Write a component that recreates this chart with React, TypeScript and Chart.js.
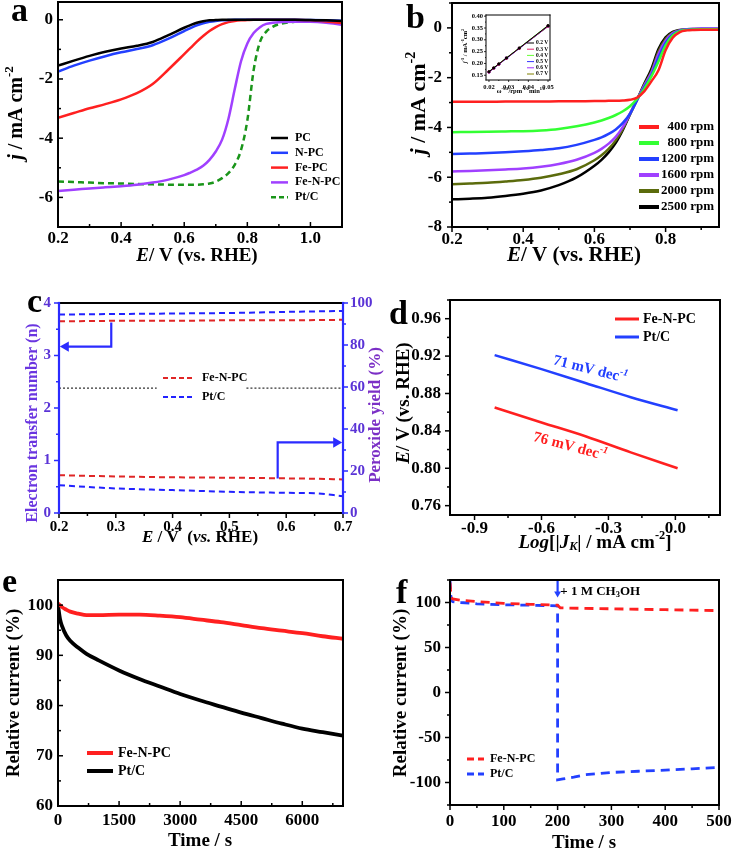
import { useEffect, useRef } from 'react';
import { Chart, registerables } from 'chart.js';

Chart.register(...registerables);

const SERIF = '"Liberation Serif", "Times New Roman", Times, serif';

// ===================== DATA =====================
// (a) LSV curves
const aE = [0.20, 0.25, 0.30, 0.35, 0.40, 0.45, 0.50, 0.55, 0.60, 0.62, 0.64, 0.66, 0.68, 0.70, 0.72, 0.74, 0.76, 0.78, 0.80, 0.82, 0.84, 0.86, 0.88, 0.90, 0.95, 1.00, 1.05, 1.10];
const aPC = [-1.55, -1.38, -1.22, -1.08, -0.97, -0.88, -0.75, -0.52, -0.27, -0.18, -0.10, -0.05, -0.02, -0.01, 0, 0, 0, 0, 0, 0, 0, 0, 0, 0, 0, -0.01, -0.02, -0.04];
const aNPC = [-1.75, -1.55, -1.38, -1.23, -1.10, -0.99, -0.86, -0.64, -0.38, -0.28, -0.19, -0.12, -0.07, -0.04, -0.02, -0.01, 0, 0, 0, 0, 0, 0, 0, 0, 0, -0.01, -0.02, -0.03];
const aFePC = [-3.31, -3.15, -2.99, -2.85, -2.69, -2.48, -2.17, -1.68, -1.16, -0.95, -0.74, -0.55, -0.38, -0.25, -0.15, -0.08, -0.04, -0.02, -0.01, 0, 0, 0, 0, 0, 0, -0.02, -0.06, -0.11];
const aFeNPC = [-5.78, -5.74, -5.70, -5.66, -5.62, -5.57, -5.50, -5.40, -5.25, -5.16, -5.06, -4.93, -4.73, -4.45, -4.05, -3.35, -2.35, -1.40, -0.80, -0.45, -0.25, -0.14, -0.10, -0.08, -0.07, -0.07, -0.10, -0.17];
const aPtC = [-5.46, -5.48, -5.50, -5.52, -5.53, -5.55, -5.56, -5.57, -5.57, -5.57, -5.57, -5.56, -5.53, -5.47, -5.35, -5.18, -4.90, -4.40, -3.40, -1.70, -0.75, -0.40, -0.24, -0.15, -0.07, -0.05, -0.05, -0.06];
const aLabels = ['PC', 'N-PC', 'Fe-PC', 'Fe-N-PC', 'Pt/C'];

// (b) rotation-rate LSV curves
const bE = [0.20, 0.25, 0.30, 0.35, 0.40, 0.45, 0.50, 0.55, 0.60, 0.62, 0.64, 0.66, 0.68, 0.70, 0.72, 0.74, 0.76, 0.78, 0.80, 0.82, 0.84, 0.86, 0.88, 0.90, 0.95];
const b400 = [-2.97, -2.97, -2.97, -2.96, -2.96, -2.96, -2.95, -2.95, -2.94, -2.94, -2.93, -2.93, -2.92, -2.89, -2.80, -2.55, -2.15, -1.70, -0.90, -0.40, -0.17, -0.10, -0.08, -0.07, -0.07];
const b800 = [-4.19, -4.18, -4.17, -4.16, -4.15, -4.12, -4.06, -3.95, -3.80, -3.72, -3.62, -3.50, -3.35, -3.15, -2.85, -2.45, -1.95, -1.35, -0.70, -0.30, -0.13, -0.08, -0.06, -0.05, -0.05];
const b1200 = [-5.07, -5.05, -5.03, -5.00, -4.96, -4.91, -4.84, -4.70, -4.50, -4.40, -4.26, -4.08, -3.82, -3.45, -2.90, -2.38, -1.90, -1.20, -0.60, -0.26, -0.12, -0.07, -0.05, -0.04, -0.04];
const b1600 = [-5.77, -5.75, -5.72, -5.69, -5.65, -5.58, -5.47, -5.30, -5.02, -4.86, -4.65, -4.38, -3.98, -3.45, -2.88, -2.32, -1.80, -1.05, -0.52, -0.22, -0.10, -0.05, -0.03, -0.02, -0.02];
const b2000 = [-6.28, -6.25, -6.22, -6.17, -6.11, -6.02, -5.88, -5.68, -5.32, -5.12, -4.86, -4.52, -4.06, -3.45, -2.88, -2.28, -1.75, -0.95, -0.45, -0.19, -0.09, -0.05, -0.04, -0.04, -0.04];
const b2500 = [-6.89, -6.86, -6.82, -6.75, -6.66, -6.53, -6.32, -6.01, -5.54, -5.30, -5.00, -4.62, -4.10, -3.48, -2.88, -2.25, -1.65, -0.85, -0.38, -0.16, -0.08, -0.06, -0.05, -0.05, -0.05];
const bLabels = ['400 rpm', '800 rpm', '1200 rpm', '1600 rpm', '2000 rpm', '2500 rpm'];

// (b) inset: K-L plots
const kX = [0.02, 0.0224, 0.025, 0.0289, 0.0354, 0.05];
const k02 = [0.165, 0.181, 0.198, 0.223, 0.265, 0.360];
const k03 = [0.164, 0.180, 0.197, 0.222, 0.264, 0.358];
const k04 = [0.166, 0.182, 0.199, 0.224, 0.266, 0.361];
const k05 = [0.163, 0.179, 0.196, 0.221, 0.263, 0.357];
const k06 = [0.165, 0.181, 0.198, 0.224, 0.265, 0.359];
const k07 = [0.164, 0.181, 0.197, 0.223, 0.264, 0.356];
const kLabels = ['0.2 V', '0.3 V', '0.4 V', '0.5 V', '0.6 V', '0.7 V'];

// (c) electron transfer number and peroxide yield
const cE = [0.2, 0.3, 0.4, 0.5, 0.6, 0.7];
const cFeN_n = [3.65, 3.66, 3.66, 3.67, 3.67, 3.68];
const cPt_n = [3.78, 3.79, 3.80, 3.81, 3.83, 3.85];
const cE2 = [0.2, 0.3, 0.4, 0.5, 0.6, 0.65, 0.7];
const cFeN_h = [18.0, 17.4, 17.0, 16.8, 16.5, 16.3, 16.0];
const cPt_h = [13.2, 11.7, 10.9, 10.1, 9.6, 9.4, 8.0];
const cRefX = [0.2, 0.372, 0.45, 0.53, 0.7];
const cRefY = [59.5, 59.5, null, 59.5, 59.5];
const cArrow1X = [0.292, 0.292, 0.212];
const cArrow1Y = [3.63, 3.17, 3.17];
const cArrow2X = [0.585, 0.585, 0.688];
const cArrow2Y = [16.4, 33.6, 33.6];
const cLabels = ['Fe-N-PC', 'Pt/C'];

// (d) Tafel
const dLogJ = [-0.81, -0.6, -0.4, -0.2, 0.01];
const dFeN = [0.865, 0.849, 0.834, 0.817, 0.800];
const dPt = [0.921, 0.906, 0.891, 0.876, 0.862];
const dLabels = ['Fe-N-PC', 'Pt/C'];

// (e) stability
const eT = [0, 50, 100, 200, 300, 500, 700, 1000, 1500, 2000, 2500, 3000, 3500, 4000, 4500, 5000, 5500, 6000, 6500, 7000];
const eFeN = [100.3, 100.0, 99.6, 99.1, 98.7, 98.3, 98.0, 98.0, 98.1, 98.1, 97.9, 97.6, 97.1, 96.6, 96.0, 95.4, 94.9, 94.4, 93.8, 93.3];
const ePt = [100.0, 97.2, 95.8, 94.0, 92.9, 91.5, 90.3, 89.0, 87.0, 85.3, 83.8, 82.3, 81.0, 79.8, 78.6, 77.5, 76.4, 75.4, 74.7, 74.0];
const eLabels = ['Fe-N-PC', 'Pt/C'];

// (f) methanol tolerance
const fT_Fe = [0, 2, 5, 20, 50, 100, 150, 200, 205, 250, 300, 350, 400, 450, 500];
const fFe = [122, 106, 104, 102.5, 101, 99, 98, 97, 94, 93.5, 93, 92.5, 92, 91.5, 91];
const fT_Pt = [0, 2, 5, 20, 50, 100, 150, 200, 200, 210, 230, 250, 300, 350, 400, 450, 500];
const fPt = [125, 103, 101, 100, 98.5, 97.5, 97, 96.3, -97, -96, -94, -91.5, -88.8, -87.5, -86.3, -84.8, -83.2];
const fArrowX = [200, 200];
const fArrowY = [125, 110];
const fLabels = ['Fe-N-PC', 'Pt/C'];

// ===================== HELPERS =====================
type Seg = { t: string; i?: boolean; sup?: boolean; sub?: boolean };

const segFont = (size: number, s: Seg) =>
  `${s.i ? 'italic ' : ''}bold ${s.sup || s.sub ? size * 0.65 : size}px ${SERIF}`;

function drawRich(ctx: CanvasRenderingContext2D, segs: Seg[], x: number, y: number, size: number,
  color: string, rot = 0, align: 'left' | 'center' | 'right' = 'center', baseline: CanvasTextBaseline = 'middle') {
  ctx.save();
  ctx.translate(x, y);
  ctx.rotate(rot);
  ctx.fillStyle = color;
  ctx.textBaseline = baseline;
  ctx.textAlign = 'left';
  const widths = segs.map((s) => { ctx.font = segFont(size, s); return ctx.measureText(s.t).width; });
  const total = widths.reduce((a, b) => a + b, 0);
  let cx = align === 'center' ? -total / 2 : align === 'right' ? -total : 0;
  segs.forEach((s, k) => {
    ctx.font = segFont(size, s);
    const dy = s.sup ? -size * 0.36 : s.sub ? size * 0.22 : 0;
    ctx.fillText(s.t, cx, dy);
    cx += widths[k];
  });
  ctx.restore();
}

const isMajor = (v: number, m: number) => Math.abs(v / m - Math.round(v / m)) < 1e-6;
const clean = (v: number) => (Math.abs(v) < 1e-9 ? 0 : v);
const f0 = (v: number) => String(Math.round(v));
const f1 = (v: number) => clean(v).toFixed(1);
const f2 = (v: number) => clean(v).toFixed(2);

const pts = (xs: number[], ys: (number | null)[]) => xs.map((x, i) => ({ x, y: ys[i] }));

function line(data: any[], color: string, width: number, extra: any = {}) {
  return {
    data, borderColor: color, backgroundColor: color, borderWidth: width, pointRadius: 0,
    fill: false, cubicInterpolationMode: 'monotone', ...extra,
  };
}

function arrow(data: any[], color: string, rot: number, r: number, yAxisID = 'y') {
  const n = data.length;
  return {
    data, yAxisID, borderColor: color, backgroundColor: color, borderWidth: 2.2, fill: false, tension: 0,
    pointRadius: data.map((_, i) => (i === n - 1 ? r : 0)),
    pointStyle: 'triangle', pointRotation: data.map((_, i) => (i === n - 1 ? rot : 0)),
    pointBorderWidth: 0,
  };
}

function axis(o: { min: number; max: number; step: number; major: number; fmt: (v: number) => string; size: number;
  pad: number; fit: number; horiz: boolean; color?: string; position?: string }) {
  return {
    type: 'linear', position: o.position ?? (o.horiz ? 'bottom' : 'left'), min: o.min, max: o.max,
    grid: { display: false, drawTicks: false }, border: { display: false },
    ticks: {
      stepSize: o.step, autoSkip: false, maxRotation: 0, minRotation: 0, includeBounds: false, padding: o.pad,
      color: o.color ?? '#000', font: { family: SERIF, size: o.size, weight: 'bold' },
      callback: (v: any) => (isMajor(Number(v), o.major) ? o.fmt(Number(v)) : ''),
    },
    afterBuildTicks: (s: any) => {
      const out: { value: number }[] = [];
      const k0 = Math.ceil(o.min / o.step - 1e-9);
      const k1 = Math.floor(o.max / o.step + 1e-9);
      for (let k = k0; k <= k1; k++) out.push({ value: +(k * o.step).toFixed(8) });
      s.ticks = out;
    },
    afterFit: (s: any) => {
      if (o.horiz) s.height = o.fit; else s.width = o.fit;
      s.paddingTop = 0; s.paddingBottom = 0; s.paddingLeft = 0; s.paddingRight = 0;
    },
  };
}

type TextItem = { segs: Seg[]; x: number; y: number; size: number; color?: string; rot?: number;
  align?: 'left' | 'center' | 'right'; baseline?: CanvasTextBaseline; data?: boolean; yAxis?: string };
type TickSpec = { id: string; side: 'left' | 'right' | 'bottom'; major: number; dir: number; color?: string; maj?: number; min?: number; w?: number };
type LegendSpec = { labels: string[]; colors: string[]; dash?: number[]; dashIdx?: number[]; x0: number; x1: number; tx: number;
  y0: number; dy: number; size: number; width: number; align?: 'left' | 'right' };
type Deco = { ox: number; oy: number; bg?: string; frame: { width: number; color: string; left?: string; right?: string };
  ticks: TickSpec[]; texts: TextItem[]; legend?: LegendSpec };

function deco(d: Deco) {
  return {
    id: 'deco',
    beforeDraw(chart: any) {
      if (!d.bg) return;
      const ctx = chart.ctx;
      ctx.save();
      ctx.fillStyle = d.bg;
      ctx.fillRect(0, 0, chart.width, chart.height);
      ctx.restore();
    },
    afterDraw(chart: any) {
      const ctx: CanvasRenderingContext2D = chart.ctx;
      const ca = chart.chartArea;
      ctx.save();
      for (const t of d.ticks) {
        const s = chart.scales[t.id];
        ctx.strokeStyle = t.color ?? '#000';
        ctx.lineWidth = t.w ?? 1.5;
        for (const tk of s.ticks) {
          const p = s.getPixelForValue(tk.value);
          const L = isMajor(tk.value, t.major) ? (t.maj ?? 5) : (t.min ?? 3);
          ctx.beginPath();
          if (t.side === 'bottom') { ctx.moveTo(p, ca.bottom); ctx.lineTo(p, ca.bottom + t.dir * L); }
          else if (t.side === 'left') { ctx.moveTo(ca.left, p); ctx.lineTo(ca.left - t.dir * L, p); }
          else { ctx.moveTo(ca.right, p); ctx.lineTo(ca.right + t.dir * L, p); }
          ctx.stroke();
        }
      }
      ctx.lineWidth = d.frame.width;
      ctx.lineCap = 'square';
      const side = (x1: number, y1: number, x2: number, y2: number, c: string) => {
        ctx.strokeStyle = c; ctx.beginPath(); ctx.moveTo(x1, y1); ctx.lineTo(x2, y2); ctx.stroke();
      };
      side(ca.left, ca.top, ca.right, ca.top, d.frame.color);
      side(ca.left, ca.bottom, ca.right, ca.bottom, d.frame.color);
      side(ca.left, ca.top, ca.left, ca.bottom, d.frame.left ?? d.frame.color);
      side(ca.right, ca.top, ca.right, ca.bottom, d.frame.right ?? d.frame.color);
      ctx.lineCap = 'butt';
      if (d.legend) {
        const L = d.legend;
        L.labels.forEach((lab, k) => {
          const y = L.y0 + k * L.dy - d.oy;
          ctx.save();
          ctx.strokeStyle = L.colors[k];
          ctx.lineWidth = L.width;
          const dashed = L.dash && (!L.dashIdx || L.dashIdx.includes(k));
          ctx.setLineDash(dashed ? (L.dash as number[]) : []);
          ctx.beginPath(); ctx.moveTo(L.x0 - d.ox, y); ctx.lineTo(L.x1 - d.ox, y); ctx.stroke();
          ctx.restore();
          drawRich(ctx, [{ t: lab }], L.tx - d.ox, y, L.size, '#000', 0, L.align ?? 'left', 'middle');
        });
      }
      for (const t of d.texts) {
        let x = t.x - d.ox;
        let y = t.y - d.oy;
        if (t.data) { x = chart.scales.x.getPixelForValue(t.x); y = chart.scales[t.yAxis ?? 'y'].getPixelForValue(t.y); }
        drawRich(ctx, t.segs, x, y, t.size, t.color ?? '#000', t.rot ?? 0, t.align ?? 'center', t.baseline ?? 'middle');
      }
      ctx.restore();
    },
  };
}

function baseOptions(padding: any, scales: any) {
  return {
    responsive: false, animation: false, events: [],
    layout: { padding },
    plugins: { legend: { display: false }, tooltip: { enabled: false } },
    scales,
  };
}

const COL = {
  black: '#000000', blue: '#2340ff', red: '#ff2020', purple: '#a040ff', green: '#1a951a',
  lime: '#33ff33', olive: '#5b6b0c', cblue: '#2222ff', cred: '#e02626', axisBlue: '#2b2bff', tickPurple: '#5a33d6',
};
const V90 = -Math.PI / 2;
const jTitle: Seg[] = [{ t: 'j', i: true }, { t: ' / mA cm' }, { t: '-2', sup: true }];
const eTitle: Seg[] = [{ t: 'E', i: true }, { t: '/ V (vs. RHE)' }];

type PanelSpec = { x: number; y: number; w: number; h: number; make: () => any };

// ===================== PANELS =====================
const panelA: PanelSpec = {
  x: 0, y: 0, w: 367, h: 280,
  make: () => ({
    type: 'line',
    data: {
      datasets: [
        line(pts(aE, aPC), COL.black, 2.5),
        line(pts(aE, aNPC), COL.blue, 2.5),
        line(pts(aE, aFePC), COL.red, 2.5),
        line(pts(aE, aFeNPC), COL.purple, 2.5),
        line(pts(aE, aPtC), COL.green, 2.5, { borderDash: [6, 4] }),
      ],
    },
    options: baseOptions({ left: 0, right: 25, top: 2, bottom: 0 }, {
      x: axis({ min: 0.2, max: 1.1, step: 0.1, major: 0.2, fmt: f1, size: 17, pad: 1, fit: 53, horiz: true }),
      y: axis({ min: -7, max: 0.6, step: 1, major: 2, fmt: f0, size: 17, pad: 5, fit: 58, horiz: false }),
    }),
    plugins: [deco({
      ox: 0, oy: 0, frame: { width: 2, color: '#000' },
      ticks: [{ id: 'x', side: 'bottom', major: 0.2, dir: -1 }, { id: 'y', side: 'left', major: 2, dir: -1 }],
      legend: { labels: aLabels, colors: [COL.black, COL.blue, COL.red, COL.purple, COL.green], dash: [5, 3], dashIdx: [4],
        x0: 271, x1: 288, tx: 295, y0: 138, dy: 14.8, size: 12, width: 2.5 },
      texts: [
        { segs: [{ t: 'a' }], x: 11, y: 21, size: 34, align: 'left', baseline: 'alphabetic' },
        { segs: jTitle, x: 17, y: 113, size: 20, rot: V90 },
        { segs: eTitle, x: 197, y: 256, size: 19 },
      ],
    })],
  }),
};

const panelB: PanelSpec = {
  x: 367, y: 0, w: 367, h: 280,
  make: () => ({
    type: 'line',
    data: {
      datasets: [
        line(pts(bE, b400), COL.red, 2.5),
        line(pts(bE, b800), COL.lime, 2.5),
        line(pts(bE, b1200), COL.blue, 2.5),
        line(pts(bE, b1600), COL.purple, 2.5),
        line(pts(bE, b2000), COL.olive, 2.5),
        line(pts(bE, b2500), COL.black, 2.5),
      ],
    },
    options: baseOptions({ left: 0, right: 15, top: 3, bottom: 0 }, {
      x: axis({ min: 0.2, max: 0.95, step: 0.1, major: 0.2, fmt: f1, size: 17, pad: 2, fit: 53, horiz: true }),
      y: axis({ min: -8, max: 1, step: 1, major: 2, fmt: f0, size: 17, pad: 10, fit: 85, horiz: false }),
    }),
    plugins: [deco({
      ox: 367, oy: 0, frame: { width: 2, color: '#000' },
      ticks: [{ id: 'x', side: 'bottom', major: 0.2, dir: 1 }, { id: 'y', side: 'left', major: 2, dir: 1 }],
      legend: { labels: bLabels, colors: [COL.red, COL.lime, COL.blue, COL.purple, COL.olive, COL.black], x0: 639, x1: 659, tx: 714,
        y0: 127, dy: 16, size: 13, width: 4, align: 'right' },
      texts: [
        { segs: [{ t: 'b' }], x: 406, y: 28, size: 34, align: 'left', baseline: 'alphabetic' },
        { segs: jTitle, x: 419, y: 103, size: 22, rot: V90 },
        { segs: eTitle, x: 574, y: 256, size: 21 },
      ],
    })],
  }),
};

const insetB: PanelSpec = {
  x: 455, y: 5, w: 100, h: 92,
  make: () => ({
    type: 'line',
    data: {
      datasets: [
        line(pts(kX, k02), COL.black, 1, { pointRadius: 1.2, pointStyle: 'rect', cubicInterpolationMode: 'default' }),
        line(pts(kX, k03), '#e0206a', 1, { pointRadius: 1.2, pointStyle: 'circle', cubicInterpolationMode: 'default' }),
        line(pts(kX, k04), '#66ff33', 1, { pointRadius: 1.2, pointStyle: 'triangle', cubicInterpolationMode: 'default' }),
        line(pts(kX, k05), '#3333ff', 1, { pointRadius: 1.2, pointStyle: 'rectRot', cubicInterpolationMode: 'default' }),
        line(pts(kX, k06), '#a030ff', 1, { pointRadius: 1.2, pointStyle: 'circle', cubicInterpolationMode: 'default' }),
        line(pts(kX, k07), '#808000', 1, { pointRadius: 1.2, pointStyle: 'star', cubicInterpolationMode: 'default' }),
      ],
    },
    options: baseOptions({ left: 0, right: 4, top: 10, bottom: 0 }, {
      x: axis({ min: 0.0185, max: 0.051, step: 0.005, major: 0.01, fmt: f2, size: 6.5, pad: 3, fit: 17, horiz: true }),
      y: axis({ min: 0.13, max: 0.405, step: 0.025, major: 0.05, fmt: f2, size: 6.5, pad: 3, fit: 31, horiz: false }),
    }),
    plugins: [deco({
      ox: 455, oy: 5, bg: '#ffffff', frame: { width: 1, color: '#000' },
      ticks: [
        { id: 'x', side: 'bottom', major: 0.01, dir: 1, maj: 2, min: 1, w: 0.8 },
        { id: 'y', side: 'left', major: 0.05, dir: 1, maj: 2, min: 1, w: 0.8 },
      ],
      legend: { labels: kLabels, colors: [COL.black, '#e0206a', '#66ff33', '#3333ff', '#a030ff', '#808000'], x0: 527, x1: 534, tx: 536,
        y0: 43, dy: 6.2, size: 5.5, width: 1 },
      texts: [
        { segs: [{ t: 'j', i: true }, { t: '-1', sup: true }, { t: ' / mA' }, { t: '-1', sup: true }, { t: 'cm' }, { t: '2', sup: true }],
          x: 465, y: 46, size: 6.5, rot: V90 },
        { segs: [{ t: 'ω' }, { t: '-1/2', sup: true }, { t: '/rpm' }, { t: '-1/2', sup: true }, { t: 'min' }, { t: '1/2', sup: true }],
          x: 521, y: 91, size: 6.5 },
      ],
    })],
  }),
};

const panelC: PanelSpec = {
  x: 0, y: 280, w: 390, h: 290,
  make: () => ({
    type: 'line',
    data: {
      datasets: [
        line(pts(cRefX, cRefY), '#333333', 1.2, { yAxisID: 'y2', borderDash: [2, 2], cubicInterpolationMode: 'default' }),
        line(pts(cE, cFeN_n), COL.cred, 2, { borderDash: [6, 4] }),
        line(pts(cE, cPt_n), COL.cblue, 2, { borderDash: [6, 4] }),
        line(pts(cE2, cFeN_h), COL.cred, 2, { yAxisID: 'y2', borderDash: [6, 4] }),
        line(pts(cE2, cPt_h), COL.cblue, 2, { yAxisID: 'y2', borderDash: [6, 4] }),
        arrow(pts(cArrow1X, cArrow1Y), COL.axisBlue, -90, 6),
        arrow(pts(cArrow2X, cArrow2Y), COL.axisBlue, 90, 6, 'y2'),
      ],
    },
    options: baseOptions({ left: 0, right: 0, top: 23, bottom: 0 }, {
      x: axis({ min: 0.2, max: 0.7, step: 0.05, major: 0.1, fmt: f1, size: 15, pad: 5, fit: 57, horiz: true }),
      y: axis({ min: 0, max: 4, step: 0.5, major: 1, fmt: f0, size: 15, pad: 8, fit: 59, horiz: false, color: COL.tickPurple }),
      y2: axis({ min: 0, max: 100, step: 10, major: 20, fmt: f0, size: 15, pad: 7, fit: 47, horiz: false, color: COL.tickPurple, position: 'right' }),
    }),
    plugins: [deco({
      ox: 0, oy: 280, frame: { width: 2.2, color: '#000', left: COL.axisBlue, right: COL.axisBlue },
      ticks: [
        { id: 'x', side: 'bottom', major: 0.1, dir: 1 },
        { id: 'y', side: 'left', major: 1, dir: 1, color: COL.axisBlue },
        { id: 'y2', side: 'right', major: 20, dir: 1, color: COL.axisBlue },
      ],
      legend: { labels: cLabels, colors: [COL.cred, COL.cblue], dash: [5, 3], x0: 163, x1: 193, tx: 202, y0: 378, dy: 19, size: 12, width: 2 },
      texts: [
        { segs: [{ t: 'c' }], x: 27, y: 312, size: 34, align: 'left', baseline: 'alphabetic' },
        { segs: [{ t: 'Electron transfer number (n)' }], x: 33, y: 423, size: 16, rot: V90, color: '#6a35e0' },
        { segs: [{ t: 'Peroxide yield (%)' }], x: 376, y: 415, size: 17, rot: V90, color: '#7b2fc6' },
        { segs: [{ t: 'E', i: true }, { t: ' / V  (' }, { t: 'vs.', i: true }, { t: ' RHE)' }], x: 200, y: 538, size: 17 },
      ],
    })],
  }),
};

const panelD: PanelSpec = {
  x: 380, y: 280, w: 354, h: 290,
  make: () => ({
    type: 'line',
    data: {
      datasets: [
        line(pts(dLogJ, dFeN), COL.red, 2.5),
        line(pts(dLogJ, dPt), COL.blue, 2.5),
      ],
    },
    options: baseOptions({ left: 0, right: 14, top: 20, bottom: 0 }, {
      x: axis({ min: -1.01, max: 0.2, step: 0.15, major: 0.3, fmt: f1, size: 17, pad: 3, fit: 55, horiz: true }),
      y: axis({ min: 0.75, max: 0.98, step: 0.02, major: 0.04, fmt: f2, size: 17, pad: 9, fit: 70, horiz: false }),
    }),
    plugins: [deco({
      ox: 380, oy: 280, frame: { width: 2, color: '#000' },
      ticks: [{ id: 'x', side: 'bottom', major: 0.3, dir: 1 }, { id: 'y', side: 'left', major: 0.04, dir: 1 }],
      legend: { labels: dLabels, colors: [COL.red, COL.blue], x0: 615, x1: 639, tx: 643, y0: 319, dy: 18, size: 14, width: 3 },
      texts: [
        { segs: [{ t: 'd' }], x: 389, y: 324, size: 34, align: 'left', baseline: 'alphabetic' },
        { segs: eTitle, x: 404, y: 403, size: 19, rot: V90 },
        { segs: [{ t: 'Log', i: true }, { t: '[|' }, { t: 'J', i: true }, { t: 'K', i: true, sub: true }, { t: '| / mA cm' }, { t: '-2', sup: true }, { t: ']' }],
          x: 595, y: 543, size: 19 },
        { segs: [{ t: '71 mV dec' }, { t: '-1', sup: true, i: true }], x: -0.382, y: 0.9055, size: 15, color: COL.blue, rot: 0.25, data: true },
        { segs: [{ t: '76 mV dec' }, { t: '-1', sup: true, i: true }], x: -0.472, y: 0.823, size: 15, color: COL.red, rot: 0.26, data: true },
      ],
    })],
  }),
};

const panelE: PanelSpec = {
  x: 0, y: 560, w: 367, h: 291,
  make: () => ({
    type: 'line',
    data: {
      datasets: [
        line(pts(eT, eFeN), COL.red, 3.8),
        line(pts(eT, ePt), COL.black, 3.8),
      ],
    },
    options: baseOptions({ left: 0, right: 24, top: 20, bottom: 0 }, {
      x: axis({ min: 0, max: 7000, step: 750, major: 1500, fmt: f0, size: 17, pad: 4, fit: 45, horiz: true }),
      y: axis({ min: 60, max: 105, step: 5, major: 10, fmt: f0, size: 17, pad: 5, fit: 58, horiz: false }),
    }),
    plugins: [deco({
      ox: 0, oy: 560, frame: { width: 2, color: '#000' },
      ticks: [{ id: 'x', side: 'bottom', major: 1500, dir: -1 }, { id: 'y', side: 'left', major: 10, dir: -1 }],
      legend: { labels: eLabels, colors: [COL.red, COL.black], x0: 87, x1: 113, tx: 118, y0: 753, dy: 18, size: 14, width: 4 },
      texts: [
        { segs: [{ t: 'e' }], x: 2, y: 592, size: 34, align: 'left', baseline: 'alphabetic' },
        { segs: [{ t: 'Relative current (%)' }], x: 14, y: 693, size: 19, rot: V90 },
        { segs: [{ t: 'Time / s' }], x: 200, y: 841, size: 19 },
      ],
    })],
  }),
};

const panelF: PanelSpec = {
  x: 367, y: 560, w: 367, h: 291,
  make: () => ({
    type: 'line',
    data: {
      datasets: [
        line(pts(fT_Fe, fFe), COL.red, 2.8, { borderDash: [9, 6], cubicInterpolationMode: 'default' }),
        line(pts(fT_Pt, fPt), COL.blue, 2.8, { borderDash: [9, 6], cubicInterpolationMode: 'default' }),
        arrow(pts(fArrowX, fArrowY), COL.blue, 180, 4),
      ],
    },
    options: baseOptions({ left: 0, right: 15, top: 20, bottom: 0 }, {
      x: axis({ min: 0, max: 500, step: 50, major: 100, fmt: f0, size: 17, pad: 6, fit: 46, horiz: true }),
      y: axis({ min: -125, max: 125, step: 25, major: 50, fmt: f0, size: 17, pad: 9, fit: 83, horiz: false }),
    }),
    plugins: [deco({
      ox: 367, oy: 560, frame: { width: 2, color: '#000' },
      ticks: [{ id: 'x', side: 'bottom', major: 100, dir: 1 }, { id: 'y', side: 'left', major: 50, dir: 1 }],
      legend: { labels: fLabels, colors: [COL.red, COL.blue], dash: [7, 4], x0: 467, x1: 484, tx: 490, y0: 759, dy: 15, size: 12, width: 3 },
      texts: [
        { segs: [{ t: 'f' }], x: 396, y: 603, size: 34, align: 'left', baseline: 'alphabetic' },
        { segs: [{ t: 'Relative current (%)' }], x: 401, y: 693, size: 19, rot: V90 },
        { segs: [{ t: 'Time / s' }], x: 584, y: 843, size: 19 },
        { segs: [{ t: '+ 1 M CH' }, { t: '3', sub: true }, { t: 'OH' }], x: 205, y: 112, size: 13, align: 'left', data: true },
      ],
    })],
  }),
};

const PANELS: PanelSpec[] = [panelA, panelB, insetB, panelC, panelD, panelE, panelF];

function Panel({ spec }: { spec: PanelSpec }) {
  const ref = useRef<HTMLCanvasElement>(null);
  useEffect(() => {
    const c = ref.current;
    if (!c) return;
    const chart = new Chart(c, spec.make() as any);
    return () => chart.destroy();
  }, [spec]);
  return (
    <canvas ref={ref} width={spec.w} height={spec.h}
      style={{ position: 'absolute', left: spec.x, top: spec.y, width: spec.w, height: spec.h }} />
  );
}

export default function App() {
  return (
    <div style={{ position: 'absolute', left: 0, top: 0, width: 734, height: 851, background: '#ffffff', overflow: 'hidden' }}>
      {PANELS.map((p, i) => <Panel key={i} spec={p} />)}
    </div>
  );
}
